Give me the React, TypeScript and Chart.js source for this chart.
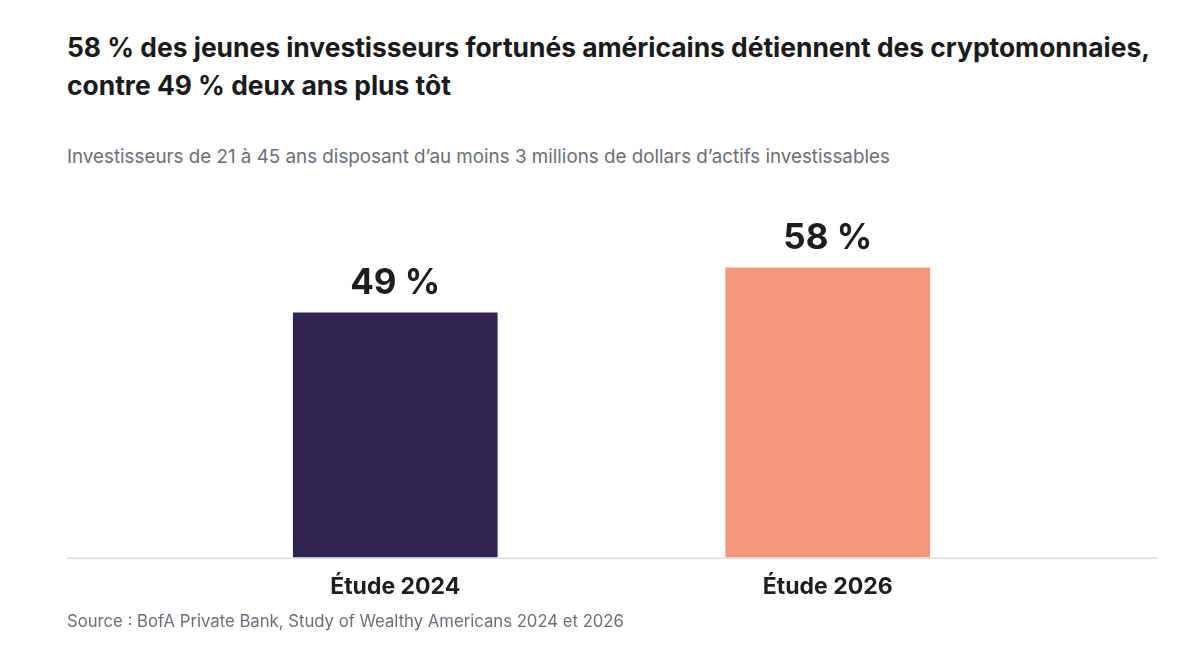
import React, { useEffect, useRef } from "react";
import { Chart, registerables } from "chart.js";

Chart.register(...registerables);

// data
const categories = ["Étude 2024", "Étude 2026"];
const shares = [49, 58];
const barColors = ["#2e2352", "#f4967b"];

const title = [
  "58\u00a0% des jeunes investisseurs fortunés américains détiennent des cryptomonnaies,",
  "contre 49\u00a0% deux ans plus tôt",
];
const subtitle =
  "Investisseurs de 21 à 45 ans disposant d\u2019au moins 3 millions de dollars d\u2019actifs investissables";
const source = "Source : BofA Private Bank, Study of Wealthy Americans 2024 et 2026";

const FONT = "Inter, 'Noto Sans', sans-serif";

// baseline across the full width + value labels above bars
const decorations = {
  id: "decorations",
  afterDatasetsDraw(chart: any) {
    const { ctx } = chart;
    const y0 = chart.scales.y.getPixelForValue(0);
    ctx.save();
    ctx.strokeStyle = "#dcdce2";
    ctx.lineWidth = 1.5;
    ctx.beginPath();
    ctx.moveTo(0, y0 + 0.75);
    ctx.lineTo(chart.width, y0 + 0.75);
    ctx.stroke();

    ctx.fillStyle = "#1e1e1e";
    ctx.font = `700 35px ${FONT}`;
    ctx.textAlign = "center";
    ctx.textBaseline = "middle";
    chart.getDatasetMeta(0).data.forEach((bar: any, i: number) => {
      ctx.fillText(`${shares[i]}\u00a0%`, bar.x, bar.y - 29);
    });
    ctx.restore();
  },
};

const BarChart: React.FC = () => {
  const canvasRef = useRef<HTMLCanvasElement | null>(null);

  useEffect(() => {
    if (!canvasRef.current) return;
    const chart = new Chart(canvasRef.current, {
      type: "bar",
      data: {
        labels: categories,
        datasets: [
          {
            data: shares,
            backgroundColor: barColors,
            barThickness: 204,
          },
        ],
      },
      options: {
        animation: false,
        responsive: true,
        maintainAspectRatio: false,
        layout: { padding: { top: 28, left: 112, right: 114, bottom: 0 } },
        plugins: {
          legend: { display: false },
          tooltip: { enabled: false },
        },
        scales: {
          x: {
            grid: { display: false, drawTicks: false },
            border: { display: false },
            ticks: {
              padding: 16,
              color: "#1e1e1e",
              font: { family: FONT, size: 23, weight: "bold" },
            },
          },
          y: {
            display: false,
            min: 0,
            max: 70,
          },
        },
      },
      plugins: [decorations],
    });
    return () => chart.destroy();
  }, []);

  return <canvas ref={canvasRef} />;
};

export default function App() {
  return (
    <div
      style={{
        position: "fixed",
        left: 0,
        top: 0,
        width: 1200,
        height: 660,
        background: "#fff",
        fontFamily: FONT,
      }}
    >
      <div
        style={{
          position: "absolute",
          left: 67,
          top: 28,
          fontSize: 26.4,
          fontWeight: 700,
          lineHeight: "38px",
          color: "#1a1a1a",
          whiteSpace: "nowrap",
        }}
      >
        {title.map((t) => (
          <div key={t}>{t}</div>
        ))}
      </div>
      <div
        style={{
          position: "absolute",
          left: 67,
          top: 146,
          fontSize: 18.8,
          lineHeight: "22px",
          color: "#6d6d7a",
          whiteSpace: "nowrap",
        }}
      >
        {subtitle}
      </div>
      <div
        style={{
          position: "absolute",
          left: 67,
          top: 180,
          width: 1091,
          height: 437,
        }}
      >
        <BarChart />
      </div>
      <div
        style={{
          position: "absolute",
          left: 67,
          top: 610,
          fontSize: 16.7,
          lineHeight: "22px",
          color: "#6d6d7a",
          whiteSpace: "nowrap",
        }}
      >
        {source}
      </div>
    </div>
  );
}
